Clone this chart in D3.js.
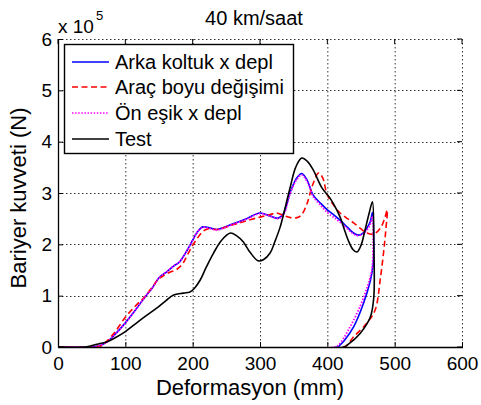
<!DOCTYPE html>
<html><head><meta charset="utf-8">
<script src="https://cdn.jsdelivr.net/npm/d3@7"></script>
<style>
body{margin:0;background:#fff;}
text{font-family:"Liberation Sans",Arial,sans-serif;fill:#000;}
</style></head><body>
<svg id="chart" width="481" height="405"></svg>
<script>
// ---- data (deformation mm, force x 10^5 N) ----
const title = "40 km/saat";
const xLabel = "Deformasyon (mm)";
const yLabel = "Bariyer kuvveti (N)";
const xTicks = [0,100,200,300,400,500,600];
const yTicks = [0,1,2,3,4,5,6];
const seriesNames = ["Arka koltuk x depl","Araç boyu değişimi","Ön eşik x depl","Test"];

const arkaX = [0,50,60,73,85,100,115,129,140,150,162,172,180,192,200,207,215,225,236,260,280,300,315,327,335,345,355,362,370,379,390,400,410,419,430,439,446,453,459,464,467,469,468,464,454,439,425,419,415,0];
const arkaY = [0,0,0.02,0.1,0.25,0.47,0.72,0.97,1.15,1.35,1.47,1.58,1.65,1.89,2.08,2.24,2.34,2.32,2.29,2.4,2.5,2.61,2.55,2.51,2.6,3.02,3.3,3.38,3.25,2.96,2.8,2.67,2.57,2.47,2.33,2.22,2.18,2.22,2.32,2.45,2.62,2.0,1.6,1.3,0.86,0.39,0.12,0.04,0,0];

const aracX = [0,55,65,73,85,100,115,129,140,150,162,177,185,192,200,207,215,222,236,260,280,300,315,325,335,345,355,362,370,378,387,393,400,410,419,430,439,450,459,469,479,485,489,487,484,479,471,459,439,424,0];
const aracY = [0,0,0.03,0.12,0.3,0.58,0.8,0.98,1.17,1.33,1.43,1.52,1.62,1.79,1.98,2.12,2.25,2.3,2.29,2.38,2.46,2.53,2.58,2.61,2.56,2.52,2.52,2.58,2.8,3.15,3.39,3.3,2.96,2.75,2.61,2.5,2.42,2.3,2.22,2.2,2.32,2.5,2.67,2.3,1.9,1.36,0.72,0.47,0.2,0,0];

const onX = [0,50,60,73,85,100,115,129,140,150,162,172,180,192,200,207,215,225,236,260,280,300,315,327,335,345,355,362,370,379,390,400,410,419,430,439,446,453,459,464,467,468,466,460,449,432,418,411,0];
const onY = [0,0,0.02,0.1,0.25,0.47,0.72,0.97,1.15,1.35,1.47,1.58,1.65,1.89,2.08,2.24,2.33,2.31,2.28,2.39,2.49,2.6,2.55,2.5,2.58,3.0,3.27,3.35,3.22,2.93,2.76,2.62,2.52,2.43,2.3,2.2,2.17,2.2,2.28,2.4,2.55,2.0,1.5,1.2,0.8,0.35,0.06,0,0];

const testX = [0,40,48,60,73,85,100,115,129,147,160,171,186,196,203,211,220,231,243,256,265,275,285,297,305,315,322,330,338,345,353,362,370,379,392,404,412,419,425,431,438,444,450,456,462,467,469,469,464,449,430,425,0];
const testY = [0,0,0.02,0.06,0.1,0.18,0.3,0.45,0.59,0.76,0.9,1.01,1.05,1.07,1.15,1.3,1.55,1.83,2.08,2.22,2.17,2.05,1.85,1.68,1.7,1.83,2.05,2.34,2.75,3.12,3.5,3.68,3.62,3.45,3.1,2.9,2.72,2.53,2.3,2.08,1.9,1.85,1.98,2.28,2.6,2.83,2.0,0.97,0.59,0.27,0.04,0,0];

const seriesColors = ["#0000ff","#ff0000","#ff00ff","#000000"];
const seriesDash = [null,"6,3.5","1.5,1.6",null];

// ---- layout ----
const svg = d3.select("#chart");
const L = 58, T = 39, W = 404, H = 308;
const x = d3.scaleLinear().domain([0,600]).range([L, L+W]);
const y = d3.scaleLinear().domain([0,6]).range([T+H, T]);

// grid
const grid = svg.append("g").attr("stroke","#333").attr("stroke-width",1).attr("stroke-dasharray","1.5,2.5");
grid.selectAll("line.gx").data(xTicks.slice(1,-1)).enter().append("line")
  .attr("x1",d=>x(d)+0.5).attr("x2",d=>x(d)+0.5).attr("y1",T).attr("y2",T+H);
grid.selectAll("line.gy").data(yTicks.slice(1,-1)).enter().append("line")
  .attr("y1",d=>Math.round(y(d))+0.5).attr("y2",d=>Math.round(y(d))+0.5).attr("x1",L).attr("x2",L+W);
grid.append("line").attr("x1",L).attr("x2",L+W).attr("y1",T+0.5).attr("y2",T+0.5);
grid.append("line").attr("x1",L+W+0.5).attr("x2",L+W+0.5).attr("y1",T).attr("y2",T+H);

// curves
svg.append("clipPath").attr("id","clip").append("rect").attr("x",L).attr("y",T-2).attr("width",W).attr("height",H+2);
const line = d3.line().x(d=>x(d[0])).y(d=>y(d[1])).curve(d3.curveCatmullRom.alpha(0.5));
const allX = [arkaX,aracX,onX,testX], allY=[arkaY,aracY,onY,testY];
const plot = svg.append("g").attr("clip-path","url(#clip)");
allX.forEach((xs,i)=>{
  const pts = xs.map((v,j)=>[v, allY[i][j]]);
  plot.append("path").attr("d", line(pts)).attr("fill","none")
    .attr("stroke", seriesColors[i]).attr("stroke-width", i===2?1.8:1.6)
    .attr("stroke-dasharray", seriesDash[i]);
});

// axes
const ax = svg.append("g").attr("transform",`translate(0,${T+H})`)
  .call(d3.axisBottom(x).tickValues(xTicks).tickFormat(d3.format("d")).tickSizeInner(-5).tickSizeOuter(0).tickPadding(10));
const ay = svg.append("g").attr("transform",`translate(${L},0)`)
  .call(d3.axisLeft(y).tickValues(yTicks).tickFormat(d3.format("d")).tickSizeInner(-5).tickSizeOuter(0).tickPadding(6));
[ax,ay].forEach(g=>{
  g.select(".domain").remove();
  g.selectAll("line").attr("stroke","#000");
  g.selectAll("text").style("font-size","19px").style("font-family","Liberation Sans, Arial, sans-serif");
});
svg.append("g").selectAll("line").data(xTicks).enter().append("line")
  .attr("x1",d=>x(d)).attr("x2",d=>x(d)).attr("y1",T).attr("y2",T+5).attr("stroke","#000");
svg.append("g").selectAll("line").data(yTicks).enter().append("line")
  .attr("x1",L+W-5).attr("x2",L+W).attr("y1",d=>y(d)).attr("y2",d=>y(d)).attr("stroke","#000");
svg.append("line").attr("x1",L+0.5).attr("x2",L+0.5).attr("y1",T).attr("y2",T+H+0.5).attr("stroke","#000").attr("stroke-width",1.3);
svg.append("line").attr("x1",L).attr("x2",L+W+1).attr("y1",T+H+0.5).attr("y2",T+H+0.5).attr("stroke","#000").attr("stroke-width",1.3);

// exponent
svg.append("text").attr("x",L).attr("y",33).style("font-size","19px").text("x 10");
svg.append("text").attr("x",L+38).attr("y",20).style("font-size","13px").text("5");

// title & labels
svg.append("text").attr("x",254).attr("y",25).attr("text-anchor","middle").style("font-size","20px").text(title);
svg.append("text").attr("x",250).attr("y",395).attr("text-anchor","middle").style("font-size","22px").text(xLabel);
svg.append("text").attr("transform","translate(26,198) rotate(-90)").attr("text-anchor","middle").style("font-size","22px").text(yLabel);

// legend
const lg = svg.append("g");
lg.append("rect").attr("x",64.5).attr("y",44.5).attr("width",229).attr("height",109)
  .attr("fill","#fff").attr("stroke","#000").attr("stroke-width",1.4);
const ly = [62,87,113,139];
seriesNames.forEach((n,i)=>{
  lg.append("line").attr("x1",72).attr("x2",109).attr("y1",ly[i]).attr("y2",ly[i])
    .attr("stroke",seriesColors[i]).attr("stroke-width",1.6).attr("stroke-dasharray",seriesDash[i]);
  lg.append("text").attr("x",115).attr("y",ly[i]+7).style("font-size","20px").text(n);
});
</script></body></html>
